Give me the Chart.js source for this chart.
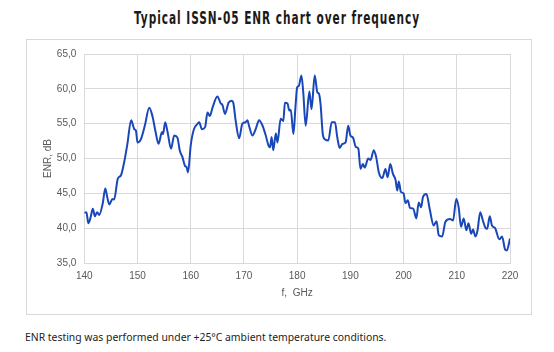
<!DOCTYPE html>
<html>
<head>
<meta charset="utf-8">
<script src="https://cdn.jsdelivr.net/npm/chart.js@4"></script>
<style>
  body { margin: 0; width: 554px; height: 352px; background: #fff; position: relative; overflow: hidden; }
  #title { position: absolute; left: 0; top: 8px; width: 554px; text-align: center;
           font-family: "DejaVu Sans Condensed", "DejaVu Sans", sans-serif; font-weight: bold;
           font-size: 17px; letter-spacing: 1.4px; color: #1a1a1a;
           transform: scaleX(0.69); transform-origin: 277px 0; }
  #box { position: absolute; left: 26px; top: 39px; width: 504px; height: 274px; border: 1px solid #d9d9d9; }
  #chart { position: absolute; left: 0; top: 0; }
  #note { position: absolute; left: 25px; top: 330px; font-family: "Noto Sans", sans-serif; font-size: 10.4px; color: #222; }
</style>
</head>
<body>
<div id="title">Typical ISSN-05 ENR chart over frequency</div>
<div id="box"><canvas id="chart" width="504" height="274"></canvas></div>
<div id="note">ENR testing was performed under +25°C ambient temperature conditions.</div>
<script>
// values
const freqGHz = [
  140.0, 140.4, 140.75, 141.2, 141.6, 142.0, 142.4, 142.8, 143.45, 143.95,
  144.3, 144.7, 145.3, 145.6, 146.3, 146.9, 147.5, 148.1, 148.8, 149.4,
  149.7, 150.0, 150.6, 151.4, 152.2, 152.8, 153.4, 153.95, 154.6, 154.8,
  155.2, 155.65, 156.3, 156.9, 157.5, 157.95, 158.45, 158.95, 159.2, 159.5,
  160.0, 160.6, 161.3, 161.6, 162.1, 162.7, 163.15, 163.6, 164.1, 165.0,
  165.65, 165.95, 166.45, 167.1, 167.7, 168.0, 168.45, 169.1, 169.7, 170.3,
  170.65, 170.95, 171.6, 172.2, 172.85, 173.5, 174.1, 174.6, 174.9, 175.2,
  175.5, 176.0, 176.3, 176.9, 177.4, 177.7, 178.2, 178.5, 178.8, 179.3,
  179.7, 180.0, 180.3, 180.8, 181.15, 181.6, 182.3, 182.7, 183.3, 183.8,
  184.1, 184.4, 184.85, 185.3, 185.85, 186.5, 187.1, 187.55, 188.0, 188.5,
  189.1, 189.6, 190.0, 190.5, 191.0, 191.5, 191.9, 192.35, 192.7, 193.35,
  193.8, 194.4, 194.85, 195.35, 196.0, 196.6, 197.0, 197.5, 198.0, 198.5,
  198.8, 199.1, 199.5, 200.0, 200.35, 200.8, 201.2, 201.8, 202.4, 202.85,
  203.3, 203.65, 204.3, 204.9, 205.65, 206.2, 206.6, 207.25, 207.85, 208.75,
  209.3, 209.9, 210.35, 210.8, 211.3, 211.8, 212.2, 212.7, 213.05, 213.5,
  213.9, 214.4, 214.9, 215.35, 215.7, 216.2, 216.6, 217.2, 218.0, 218.5,
  219.1, 219.4, 220.0
];
const enrDb = [
  42.2, 42.3, 40.7, 41.6, 42.8, 41.7, 42.3, 41.9, 43.5, 45.7,
  44.5, 43.4, 44.2, 44.1, 47.1, 47.6, 49.5, 52.1, 55.5, 54.2,
  54.0, 52.3, 52.7, 54.8, 57.3, 56.1, 53.8, 52.1, 53.8, 53.5,
  55.2, 53.8, 51.4, 53.3, 53.0, 51.1, 50.2, 48.9, 48.8, 48.0,
  51.9, 54.2, 55.0, 55.2, 54.2, 54.5, 56.6, 56.1, 57.3, 58.9,
  57.9, 57.7, 56.4, 58.0, 58.3, 58.0, 55.4, 52.9, 55.0, 55.2,
  55.5, 54.7, 53.3, 54.2, 55.5, 54.7, 53.3, 51.9, 51.6, 53.1,
  51.2, 53.6, 52.3, 55.7, 55.4, 58.0, 57.9, 56.9, 57.0, 53.5,
  57.6, 60.2, 60.4, 61.9, 59.5, 54.7, 59.6, 57.1, 61.9, 59.5,
  59.3, 57.8, 53.3, 52.7, 52.6, 55.2, 55.2, 53.0, 51.5, 52.1,
  52.3, 54.7, 53.3, 53.0, 51.7, 51.4, 48.5, 49.2, 48.7, 50.0,
  49.8, 51.2, 50.2, 48.0, 47.2, 48.5, 47.3, 49.2, 47.8, 46.9,
  45.4, 46.7, 45.2, 45.0, 43.6, 44.0, 42.9, 42.8, 41.4, 43.7,
  43.0, 44.5, 44.9, 42.8, 40.4, 41.0, 39.0, 38.8, 40.9, 41.3,
  41.1, 44.2, 43.0, 40.2, 41.4, 39.7, 40.7, 39.2, 39.8, 38.8,
  39.7, 42.3, 41.1, 40.1, 39.9, 41.7, 40.4, 40.0, 38.4, 38.8,
  36.9, 36.8, 38.5
];
const yTicks = [35, 40, 45, 50, 55, 60, 65];
const xTicks = [140, 150, 160, 170, 180, 190, 200, 210, 220];

const points = freqGHz.map((f, i) => ({ x: f, y: enrDb[i] }));
const tickFont = { family: '"Liberation Sans", sans-serif', size: 10 };
const gridColor = '#d9d9d9';

new Chart(document.getElementById('chart').getContext('2d'), {
    type: 'line',
    data: {
        datasets: [{
            data: points,
            borderColor: '#1a47b8',
            borderWidth: 2,
            pointRadius: 0,
            cubicInterpolationMode: 'monotone',
            fill: false
        }]
    },
    options: {
        responsive: false,
        animation: false,
        layout: { padding: { top: 14, right: 21, bottom: 0, left: 0 } },
        plugins: { legend: { display: false }, tooltip: { enabled: false } },
        scales: {
            x: {
                type: 'linear',
                min: xTicks[0],
                max: xTicks[xTicks.length - 1],
                afterBuildTicks: s => { s.ticks = xTicks.map(v => ({ value: v })); },
                afterFit: s => { s.height = 51; },
                grid: { color: gridColor, drawTicks: false },
                border: { color: gridColor },
                ticks: { font: tickFont, color: '#595959', padding: 7, maxRotation: 0 },
                title: { display: true, text: 'f,  GHz', font: tickFont, color: '#595959', padding: { top: 0, bottom: 15 } }
            },
            y: {
                min: yTicks[0],
                max: yTicks[yTicks.length - 1],
                afterBuildTicks: s => { s.ticks = yTicks.map(v => ({ value: v })); },
                afterFit: s => { s.width = 57.3; },
                grid: { color: gridColor, drawTicks: false },
                border: { color: gridColor },
                ticks: { font: tickFont, color: '#595959', padding: 8, callback: v => v.toFixed(1).replace('.', ',') },
                title: { display: true, text: 'ENR, dB', font: tickFont, color: '#595959', padding: { top: 15, bottom: 0 } }
            }
        }
    }
});
</script>
</body>
</html>
